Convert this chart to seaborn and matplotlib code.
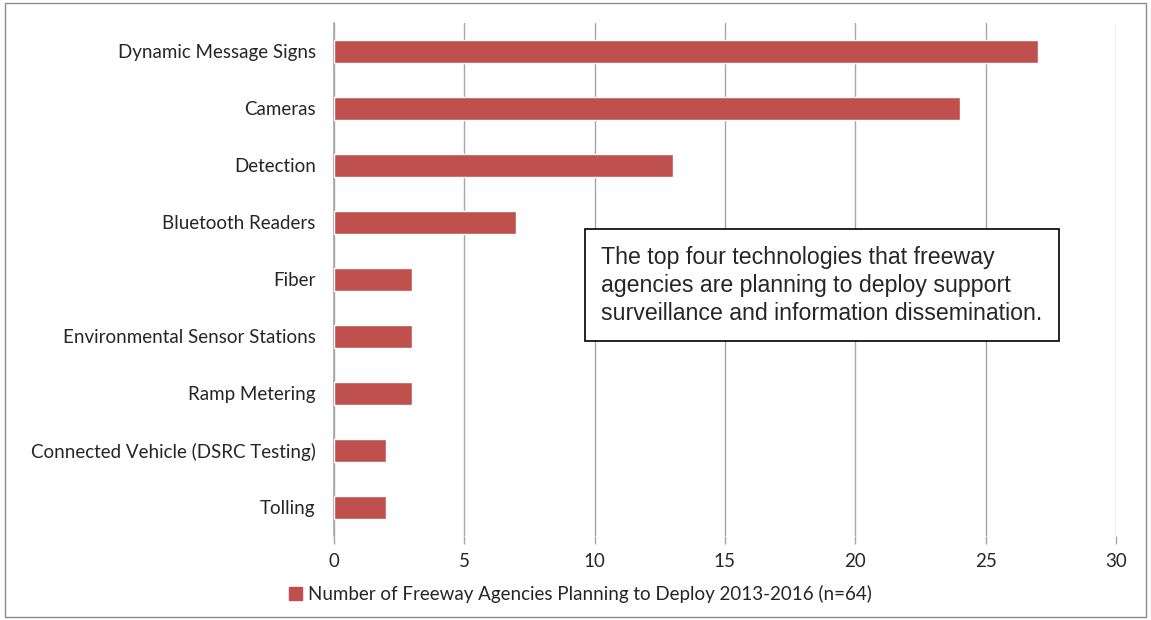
import pandas as pd
import matplotlib.pyplot as plt
import seaborn as sns
from matplotlib.patches import Rectangle

# =========================
# DATA
# =========================

technologies = [
    "Dynamic Message Signs",
    "Cameras",
    "Detection",
    "Bluetooth Readers",
    "Fiber",
    "Environmental Sensor Stations",
    "Ramp Metering",
    "Connected Vehicle (DSRC Testing)",
    "Tolling",
]
agency_counts = [27, 24, 13, 7, 3, 3, 3, 2, 2]
series_name = "Number of Freeway Agencies Planning to Deploy 2013-2016 (n=64)"
note_text = ("The top four technologies that freeway\n"
             "agencies are planning to deploy support\n"
             "surveillance and information dissemination.")

df = pd.DataFrame({"Technology": technologies, "Count": agency_counts})

# =========================
# PLOT
# =========================

sns.set_style("white")
plt.rcParams['font.family'] = ['Lato', 'DejaVu Sans']

fig = plt.figure(figsize=(11.51, 6.2), dpi=100)
ax = fig.add_axes([0.290, 0.1355, 0.6796, 0.8275])

bar_color = "#C0504D"
sns.barplot(data=df, x="Count", y="Technology", orient="h",
            color=bar_color, saturation=1, width=0.4, ax=ax, zorder=3)

ax.set_xlim(0, 30)
ax.set_ylim(8.5, -0.5)
ax.set_xticks(range(0, 31, 5))
ax.xaxis.grid(True, color="#A6A6A6", linewidth=1, zorder=0)
ax.set_xlabel("")
ax.set_ylabel("")

for side in ["top", "right", "bottom"]:
    ax.spines[side].set_visible(False)
ax.spines["left"].set_color("#A6A6A6")
ax.spines["left"].set_linewidth(1.2)

# category boundary ticks on the left axis
ax.set_yticks([i - 0.5 for i in range(len(technologies) + 1)], minor=True)
ax.tick_params(axis="y", which="major", length=0, labelsize=13.5, pad=13)
ax.tick_params(axis="y", which="minor", length=6, color="#A6A6A6", width=1)
ax.tick_params(axis="x", length=6, color="#A6A6A6", width=1, labelsize=13.5, pad=6, bottom=True)

# text box
ax.text(0.342, 0.566, note_text, transform=ax.transAxes, fontsize=16.7,
        family=["Liberation Sans", "DejaVu Sans"], va="top", ha="left",
        linespacing=1.28, zorder=5,
        bbox=dict(boxstyle="square,pad=0.72", facecolor="white",
                  edgecolor="black", linewidth=1.2))

# legend
handle = Rectangle((0, 0), 1, 1, color=bar_color)
fig.legend([handle], [series_name], loc="center", bbox_to_anchor=(0.504, 0.042),
           frameon=False, fontsize=13.5, handlelength=0.7, handleheight=0.7,
           handletextpad=0.3)

# outer chart border
fig.patches.append(Rectangle((0.004, 0.005), 0.992, 0.99, transform=fig.transFigure,
                             fill=False, edgecolor="#8C8C8C", linewidth=1))

fig.savefig("out.png", dpi=100)
plt.close()
